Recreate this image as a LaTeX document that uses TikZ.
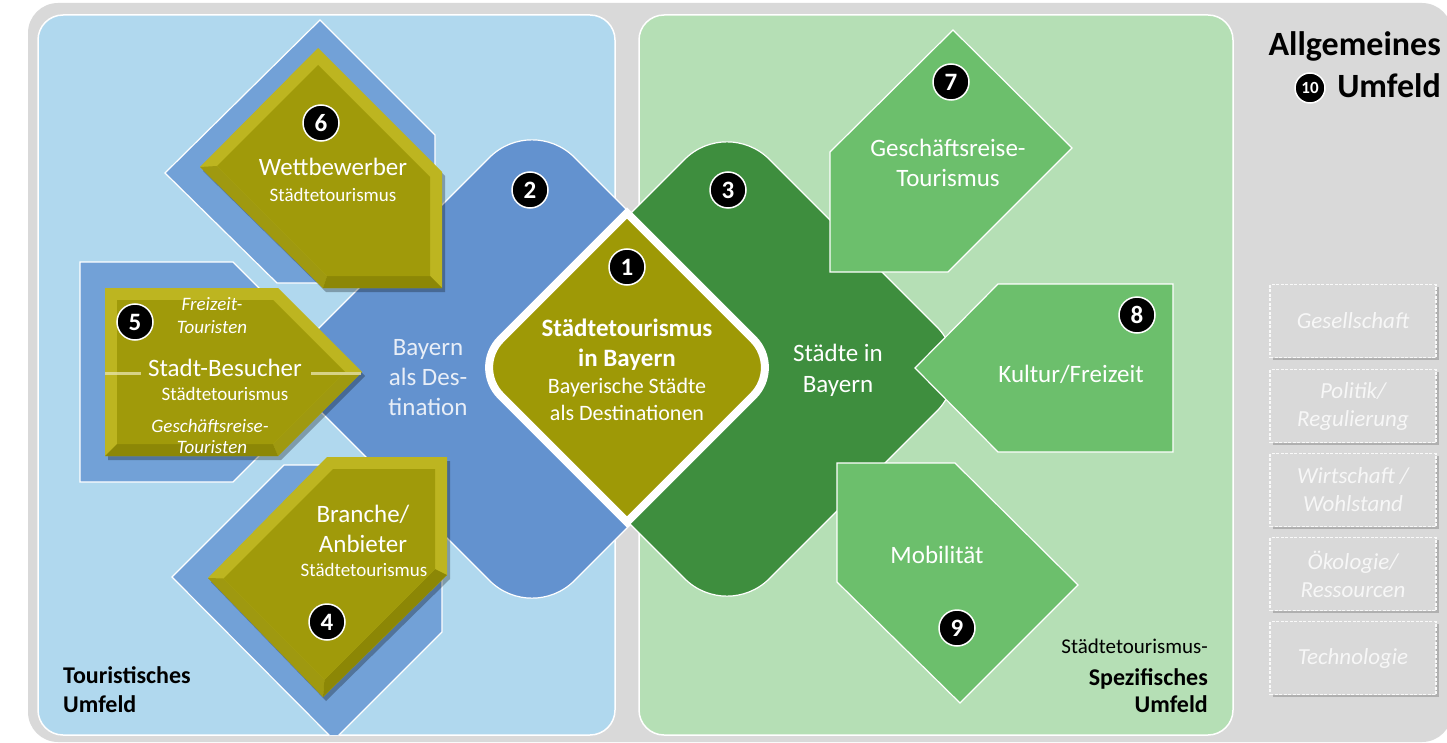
\documentclass[tikz,border=0pt]{standalone}
\usepackage{fontspec}
\setmainfont{Carlito}
\usetikzlibrary{shadows}
\definecolor{bggray}{HTML}{D9D9D9}
\definecolor{panelblue}{HTML}{B0D8EE}
\definecolor{mainblue}{HTML}{6392CF}
\definecolor{framblue}{HTML}{72A1D7}
\definecolor{panelgreen}{HTML}{B5DFB5}
\definecolor{darkgreen}{HTML}{3E8E3E}
\definecolor{greenmid}{HTML}{6CBF6C}
\definecolor{olivemain}{HTML}{A09A0A}
\definecolor{olivelight}{HTML}{BDB520}
\definecolor{olivedark}{HTML}{8C8706}
\definecolor{centerolive}{HTML}{9E9906}
\definecolor{boxtext}{HTML}{F7F7F7}
\definecolor{destext}{HTML}{E8EEF7}
\tikzset{
  panel/.style={draw=white, line width=1.5pt, rounded corners=25pt},
  bframe/.style={fill=framblue, draw=white, line width=1.2pt, line join=miter},
  yshadow/.style={fill=black, opacity=0.28},
  yout/.style={fill=olivelight},
  ydark/.style={fill=olivedark},
  yin/.style={fill=olivemain},
  gshape/.style={fill=greenmid, draw=white, line width=1.2pt, line join=miter},
  numcirc/.style={circle, fill=black, draw=white, line width=1.5pt, minimum size=36pt, inner sep=0pt, text=white, font=\fontsize{25}{25}\selectfont\bfseries},
  wtxt/.style={text=white, font=\fontsize{25}{30}\selectfont, anchor=base, inner sep=0pt},
  wbold/.style={text=white, font=\fontsize{25}{30}\selectfont\bfseries, anchor=base, inner sep=0pt},
  wmid/.style={text=white, font=\fontsize{22}{26}\selectfont, anchor=base, inner sep=0pt},
  wsmall/.style={text=white, font=\fontsize{19}{22}\selectfont, anchor=base, inner sep=0pt},
  wital/.style={text=white, font=\fontsize{19}{22}\selectfont\itshape, anchor=base, inner sep=0pt},
  blk/.style={text=black, font=\fontsize{24}{28}\selectfont\bfseries, inner sep=0pt},
  gbox/.style={minimum width=166pt, minimum height=73pt, fill=bggray, draw=white!85!bggray, dash pattern=on 3pt off 1.5pt, line width=1.2pt, text=boxtext, font=\fontsize{23}{28}\selectfont\itshape, align=center, inner sep=0pt, drop shadow={shadow xshift=2.5pt, shadow yshift=-2.5pt, opacity=0.35, fill=black!60}},
  divline/.style={draw=white!60!olivelight, line width=3pt, opacity=0.8}
}
\begin{document}
\begin{tikzpicture}[x=1pt,y=-1pt]
\useasboundingbox (0,0) rectangle (1447,743);
% background and panels
\fill[bggray, rounded corners=30pt] (28,3) rectangle (1452,742);
\draw[panel, fill=panelblue] (38,15) rectangle (615,735);
\draw[panel, fill=panelgreen] (639,15) rectangle (1233,735);

% big diamonds
\draw[white, line width=1.2pt, fill=mainblue, rounded corners=60pt] (532,115) -- (786,369) -- (532,623) -- (278,369) -- cycle;
\draw[white, line width=1.2pt, fill=darkgreen, rounded corners=60pt] (727,117) -- (979,369) -- (727,621) -- (475,369) -- cycle;

% blue frames
\begin{scope}
\clip[rounded corners=25pt] (38,15) rectangle (615,735);
\draw[bframe] (320,20) -- (435,135) -- (435,283) -- (277,283) -- (165,173) -- cycle;
\draw[bframe] (80,262) -- (233,262) -- (343,372) -- (233,482) -- (80,482) -- cycle;
\draw[bframe] (284,465) -- (442,465) -- (442,632) -- (334,740) -- (172,577) -- cycle;
\end{scope}

% yellow 6
\fill[yshadow, shift={(3,4)}] (318,48) -- (442,172) -- (442,288) -- (323,288) -- (200,167) -- cycle;
\fill[yout] (318,48) -- (442,172) -- (442,288) -- (323,288) -- (200,167) -- cycle;
\fill[ydark] (442,288) -- (323,288) -- (327,276) -- (430,276) -- cycle;
\fill[ydark, opacity=0.6] (323,288) -- (200,167) -- (217,166) -- (327,276) -- cycle;
\fill[yin] (318,65) -- (430,177) -- (430,276) -- (327,276) -- (217,166) -- cycle;

% yellow 5
\fill[yshadow, shift={(3,4)}] (105,288) -- (278,288) -- (362,372) -- (278,456) -- (105,456) -- cycle;
\fill[yout] (105,288) -- (278,288) -- (362,372) -- (278,456) -- (105,456) -- cycle;
\fill[ydark] (105,456) -- (278,456) -- (273,444) -- (117,444) -- cycle;
\fill[ydark, opacity=0.6] (278,456) -- (362,372) -- (345,372) -- (273,444) -- cycle;
\fill[yin] (117,300) -- (273,300) -- (345,372) -- (273,444) -- (117,444) -- cycle;
\draw[divline] (105,373) -- (141,373);
\draw[divline] (311,373) -- (361,373);

% yellow 4
\fill[yshadow, shift={(3,4)}] (327,457) -- (447,457) -- (447,575) -- (323,697) -- (208,578) -- cycle;
\fill[yout] (327,457) -- (447,457) -- (447,575) -- (323,697) -- (208,578) -- cycle;
\fill[ydark] (447,575) -- (323,697) -- (324.5,679.5) -- (435,569) -- cycle;
\fill[ydark, opacity=0.6] (323,697) -- (208,578) -- (223.5,578.5) -- (324.5,679.5) -- cycle;
\fill[yin] (333,469) -- (435,469) -- (435,569) -- (324.5,679.5) -- (223.5,578.5) -- cycle;

% green shapes
\draw[gshape] (830,152) -- (953,30) -- (1072,148) -- (948,272) -- (830,272) -- cycle;
\draw[gshape] (998,284) -- (1173,284) -- (1173,452) -- (998,452) -- (915,368) -- cycle;
\draw[gshape] (837,463) -- (955,463) -- (1078,585) -- (960,703) -- (837,582) -- cycle;

% center diamond
\draw[white, line width=8pt, line join=miter, fill=centerolive]
  (627,213) -- (500.8,339.2) .. controls (485.2,354.8) and (485.2,380.2) .. (500.8,395.8)
  -- (627,522) -- (753.2,395.8) .. controls (768.8,380.2) and (768.8,354.8) .. (753.2,339.2) -- cycle;

% number circles
\node[numcirc] (n1) at (627,267) {1};
\node[numcirc] (n2) at (530,190) {2};
\node[numcirc] (n3) at (728,190) {3};
\node[numcirc] (n4) at (327,622) {4};
\node[numcirc] (n5) at (135,322) {5};
\node[numcirc] (n6) at (321,123) {6};
\node[numcirc] (n7) at (951,82) {7};
\node[numcirc] (n8) at (1137,315) {8};
\node[numcirc] (n9) at (957,628) {9};
\node[numcirc, minimum size=30pt, font=\fontsize{17}{17}\selectfont\bfseries] (n10) at (1310,88) {10};

% texts left
\node[wtxt] (t6a) at (333,176) {Wettbewerber};
\node[wsmall] (t6b) at (333,202) {Städtetourismus};
\node[wital] (t5a) at (212,310) {Freizeit-};
\node[wital] (t5b) at (212,333) {Touristen};
\node[wtxt] (t5c) at (225,376) {Stadt-Besucher};
\node[wsmall] (t5d) at (225,400) {Städtetourismus};
\node[wital] (t5e) at (210,432) {Geschäftsreise-};
\node[wital] (t5f) at (212,453) {Touristen};
\node[wtxt] (t4a) at (363,522) {Branche/};
\node[wtxt] (t4b) at (363,552) {Anbieter};
\node[wsmall] (t4c) at (364,576) {Städtetourismus};
\node[wtxt, text=destext] (t2a) at (428,355) {Bayern};
\node[wtxt, text=destext] (t2b) at (428,385) {als Des-};
\node[wtxt, text=destext] (t2c) at (428,415) {tination};

% center texts
\node[wbold] (t1a) at (627,336) {Städtetourismus};
\node[wbold] (t1b) at (627,366) {in Bayern};
\node[wmid] (t1c) at (627,393) {Bayerische Städte};
\node[wmid] (t1d) at (627,420) {als Destinationen};

% right texts
\node[wtxt] (t3a) at (838,361) {Städte in};
\node[wtxt] (t3b) at (838,392) {Bayern};
\node[wtxt] (t7a) at (948,157) {Geschäftsreise-};
\node[wtxt] (t7b) at (948,187) {Tourismus};
\node[wtxt] (t8) at (1071,382) {Kultur/Freizeit};
\node[wtxt] (t9) at (937,563) {Mobilität};

% corner labels
\node[blk, anchor=base west] (lt1) at (63,683) {Touristisches};
\node[blk, anchor=base west] (lt2) at (63,712) {Umfeld};
\node[text=black, font=\fontsize{21}{24}\selectfont, inner sep=0pt, anchor=base east] (ls1) at (1208,653) {Städtetourismus-};
\node[blk, anchor=base east] (ls2) at (1208,685) {Spezifisches};
\node[blk, anchor=base east] (ls3) at (1208,712) {Umfeld};
\node[blk, font=\fontsize{34}{36}\selectfont\bfseries, anchor=base east] (la1) at (1441,56) {Allgemeines};
\node[blk, font=\fontsize{34}{36}\selectfont\bfseries, anchor=base east] (la2) at (1441,98) {Umfeld};

% general environment boxes
\node[gbox] (g1) at (1353,321) {Gesellschaft};
\node[gbox] (g2) at (1353,406) {Politik/\\Regulierung};
\node[gbox] (g3) at (1353,490) {Wirtschaft /\\Wohlstand};
\node[gbox] (g4) at (1353,574) {Ökologie/\\Ressourcen};
\node[gbox] (g5) at (1353,658) {Technologie};
\end{tikzpicture}
\end{document}
